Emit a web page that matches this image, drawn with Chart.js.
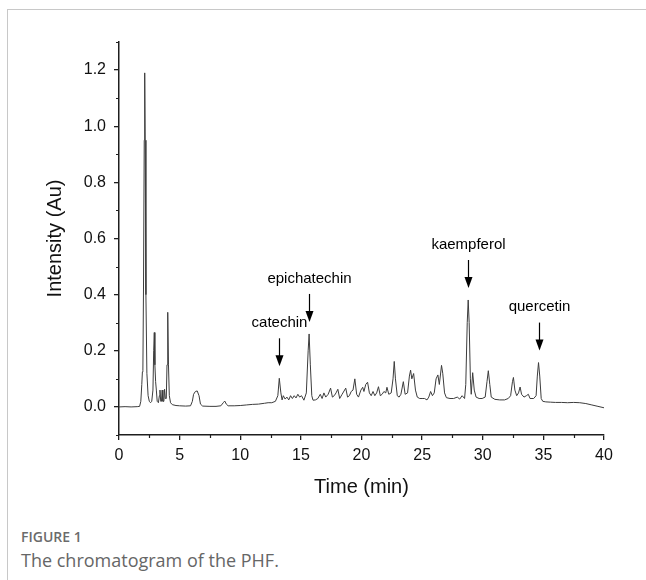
<!DOCTYPE html>
<html>
<head>
<meta charset="utf-8">
<script src="https://cdn.jsdelivr.net/npm/chart.js@4"></script>
<style>
  body { margin: 0; background: #fff; }
  #wrap { position: relative; width: 646px; height: 580px; overflow: hidden; }
  #frame { position: absolute; left: 7px; top: 9px; width: 660px; height: 600px;
           border-left: 1px solid #c8c8c8; border-top: 1px solid #c8c8c8; }
  #myChart { position: absolute; left: 0; top: 0; }
  .fig { position: absolute; left: 21px; font-family: "Open Sans", sans-serif; color: #6b6b6b; }
  #figNo { top: 527px; font-size: 14px; font-weight: 600; }
  #figText { top: 548px; font-size: 18px; color: #666; }
</style>
</head>
<body>
<div id="wrap">
  <div id="frame"></div>
  <canvas id="myChart" width="646" height="510"></canvas>
  <div class="fig" id="figNo">FIGURE 1</div>
  <div class="fig" id="figText">The chromatogram of the PHF.</div>
</div>
<script>
// retention time (min) and detector response (Au)
const timeMin = [
  0, 0.5, 1.0, 1.5, 1.7, 1.8, 1.88, 1.93, 1.97, 2.02,
  2.08, 2.12, 2.16, 2.22, 2.3, 2.4, 2.5, 2.6, 2.7, 2.8,
  2.86, 2.91, 2.96, 3.02, 3.08, 3.15, 3.25, 3.33, 3.38, 3.44,
  3.5, 3.56, 3.62, 3.7, 3.76, 3.82, 3.9, 3.96, 4.02, 4.08,
  4.15, 4.25, 4.4, 4.7, 5.0, 5.5, 5.9, 6.05, 6.15, 6.3,
  6.45, 6.6, 6.72, 6.9, 7.5, 8.0, 8.4, 8.6, 8.72, 8.85,
  9.0, 9.5, 10.0, 10.5, 11.0, 11.5, 12.0, 12.3, 12.6, 12.9,
  13.1, 13.22, 13.35, 13.45, 13.55, 13.7, 13.85, 14.0, 14.15, 14.3,
  14.45, 14.6, 14.75, 14.9, 15.05, 15.25, 15.45, 15.6, 15.68, 15.78,
  15.9, 16.0, 16.2, 16.4, 16.6, 16.75, 16.9, 17.05, 17.25, 17.45,
  17.6, 17.75, 17.9, 18.05, 18.2, 18.4, 18.7, 18.85, 19.0, 19.15,
  19.3, 19.45, 19.6, 19.75, 19.95, 20.1, 20.2, 20.35, 20.5, 20.65,
  20.8, 20.95, 21.1, 21.25, 21.4, 21.55, 21.7, 21.85, 22.0, 22.1,
  22.25, 22.45, 22.6, 22.7, 22.8, 22.95, 23.1, 23.25, 23.45, 23.6,
  23.8, 23.95, 24.05, 24.15, 24.3, 24.45, 24.6, 24.8, 25.0, 25.2,
  25.4, 25.55, 25.7, 25.85, 26.0, 26.15, 26.3, 26.42, 26.6, 26.7,
  26.85, 27.0, 27.3, 27.6, 27.9, 28.1, 28.3, 28.5, 28.6, 28.72,
  28.8, 28.88, 28.98, 29.05, 29.17, 29.3, 29.45, 29.7, 29.95, 30.2,
  30.35, 30.46, 30.58, 30.7, 31.0, 31.4, 31.8, 32.1, 32.3, 32.45,
  32.53, 32.65, 32.8, 32.95, 33.08, 33.2, 33.4, 33.6, 33.76, 33.9,
  34.2, 34.4, 34.5, 34.6, 34.7, 34.82, 34.95, 35.2, 35.6, 36.0,
  36.5, 37.0, 37.5, 38.0, 38.5, 39.0, 39.5, 40.0
];
const intensityAu = [
  0, 0.001, 0, 0.001, 0.002, 0.02, 0.08, 0.125, 0.13, 0.42,
  0.95, 1.19, 0.95, 0.4, 0.12, 0.04, 0.02, 0.015, 0.02, 0.06,
  0.2, 0.265, 0.15, 0.09, 0.06, 0.02, 0.015, 0.04, 0.06, 0.02,
  0.02, 0.06, 0.02, 0.02, 0.063, 0.03, 0.03, 0.15, 0.337, 0.15,
  0.04, 0.015, 0.008, 0.005, 0.004, 0.003, 0.004, 0.02, 0.045, 0.055,
  0.057, 0.04, 0.01, 0.003, 0.002, 0.002, 0.004, 0.015, 0.021, 0.01,
  0.004, 0.004, 0.005, 0.007, 0.009, 0.01, 0.013, 0.015, 0.015, 0.02,
  0.04, 0.102, 0.05, 0.025, 0.04, 0.028, 0.035, 0.025, 0.04, 0.03,
  0.04, 0.032, 0.045, 0.035, 0.04, 0.024, 0.05, 0.2, 0.26, 0.15,
  0.04, 0.024, 0.025, 0.03, 0.045, 0.03, 0.05, 0.035, 0.045, 0.067,
  0.035, 0.04, 0.05, 0.063, 0.03, 0.045, 0.067, 0.035, 0.04, 0.055,
  0.06, 0.1, 0.045, 0.035, 0.06, 0.07, 0.055, 0.08, 0.088, 0.05,
  0.04, 0.055, 0.04, 0.05, 0.072, 0.04, 0.045, 0.055, 0.05, 0.07,
  0.045, 0.05, 0.1, 0.162, 0.1, 0.04, 0.035, 0.045, 0.09, 0.045,
  0.05, 0.11, 0.131, 0.1, 0.119, 0.06, 0.035, 0.03, 0.03, 0.03,
  0.025, 0.035, 0.055, 0.04, 0.05, 0.1, 0.114, 0.08, 0.148, 0.12,
  0.05, 0.033, 0.03, 0.03, 0.035, 0.028, 0.04, 0.03, 0.08, 0.3,
  0.381, 0.3, 0.1, 0.045, 0.122, 0.06, 0.035, 0.03, 0.03, 0.035,
  0.09, 0.129, 0.08, 0.035, 0.027, 0.025, 0.025, 0.03, 0.04, 0.09,
  0.105, 0.06, 0.04, 0.05, 0.071, 0.045, 0.035, 0.04, 0.045, 0.03,
  0.03, 0.04, 0.11, 0.158, 0.11, 0.03, 0.02, 0.018, 0.017, 0.016,
  0.016, 0.015, 0.016, 0.015, 0.012, 0.007, 0.002, -0.003
];

const xTicks = [0, 5, 10, 15, 20, 25, 30, 35, 40];
const yTicks = [0, 0.2, 0.4, 0.6, 0.8, 1.0, 1.2];

// marked compounds
const peakNames = ['catechin', 'epichatechin', 'kaempferol', 'quercetin'];
const peakTimes = [13.22, 15.68, 28.8, 34.6];
const peakHeights = [0.102, 0.26, 0.381, 0.158];

const axisColor = '#1e1e1e';
const fontFam = '"Liberation Sans", Arial, sans-serif';
const points = timeMin.map((t, i) => ({ x: t, y: intensityAu[i] }));

// short minor ticks between the labelled ones
const minorTicks = {
  id: 'minorTicks',
  afterDraw(chart) {
    const c = chart.ctx;
    const xs = chart.scales.x, ys = chart.scales.y;
    const bottom = chart.chartArea.bottom, left = chart.chartArea.left;
    c.save();
    c.strokeStyle = axisColor;
    c.lineWidth = 1.2;
    c.beginPath();
    for (let v = 2.5; v < 40; v += 5) {
      const px = Math.round(xs.getPixelForValue(v)) + 0.5;
      c.moveTo(px, bottom);
      c.lineTo(px, bottom + 3);
    }
    for (let v = -0.1; v < 1.35; v += 0.2) {
      const py = Math.round(ys.getPixelForValue(v)) + 0.5;
      c.moveTo(left, py);
      c.lineTo(left - 3, py);
    }
    c.stroke();
    c.restore();
  }
};

// arrows + names over the marked peaks
const peakLabels = {
  id: 'peakLabels',
  afterDatasetsDraw(chart) {
    const c = chart.ctx;
    const xs = chart.scales.x, ys = chart.scales.y;
    c.save();
    c.strokeStyle = '#000';
    c.fillStyle = '#000';
    c.lineWidth = 1.2;
    c.font = '15px ' + fontFam;
    c.textAlign = 'center';
    c.textBaseline = 'bottom';
    for (let i = 0; i < peakNames.length; i++) {
      const px = Math.round(xs.getPixelForValue(peakTimes[i])) + 0.5;
      const tip = ys.getPixelForValue(peakHeights[i]) - 12;
      const tail = tip - 28;
      c.beginPath();
      c.moveTo(px, tail);
      c.lineTo(px, tip - 10);
      c.stroke();
      c.beginPath();
      c.moveTo(px - 4, tip - 11);
      c.lineTo(px + 4, tip - 11);
      c.lineTo(px, tip);
      c.closePath();
      c.fill();
      c.fillText(peakNames[i], px, tail - 8);
    }
    c.restore();
  }
};

var ctx = document.getElementById('myChart');
var myChart = new Chart(ctx, {
  type: 'line',
  data: {
    datasets: [{
      data: points,
      borderColor: '#3c3c3c',
      borderWidth: 1,
      pointRadius: 0,
      tension: 0,
      fill: false
    }]
  },
  options: {
    responsive: false,
    animation: false,
    layout: { padding: { top: 42, right: 42, left: 0, bottom: 0 } },
    plugins: { legend: { display: false }, tooltip: { enabled: false } },
    scales: {
      x: {
        type: 'linear',
        min: 0,
        max: 40,
        afterBuildTicks: (s) => { s.ticks = xTicks.map(v => ({ value: v })); },
        afterFit: (s) => { s.height = 75; },
        ticks: {
          color: '#111',
          padding: 6,
          maxRotation: 0,
          font: { family: fontFam, size: 16 }
        },
        grid: { drawOnChartArea: false, color: axisColor, lineWidth: 1.3, tickLength: 5 },
        border: { color: axisColor, width: 1.5 },
        title: {
          display: true,
          text: 'Time (min)',
          color: '#111',
          padding: { top: 0, bottom: 11 },
          font: { family: fontFam, size: 20 }
        }
      },
      y: {
        min: -0.1,
        max: 1.3,
        afterBuildTicks: (s) => { s.ticks = yTicks.map(v => ({ value: v })); },
        afterFit: (s) => { s.width = 119; },
        ticks: {
          color: '#111',
          padding: 8,
          callback: (v) => v.toFixed(1),
          font: { family: fontFam, size: 16 }
        },
        grid: { drawOnChartArea: false, color: axisColor, lineWidth: 1.3, tickLength: 5 },
        border: { color: axisColor, width: 1.5 },
        title: {
          display: true,
          text: 'Intensity (Au)',
          color: '#111',
          padding: { top: 43, bottom: 0 },
          font: { family: fontFam, size: 20 }
        }
      }
    }
  },
  plugins: [minorTicks, peakLabels]
});
</script>
</body>
</html>
